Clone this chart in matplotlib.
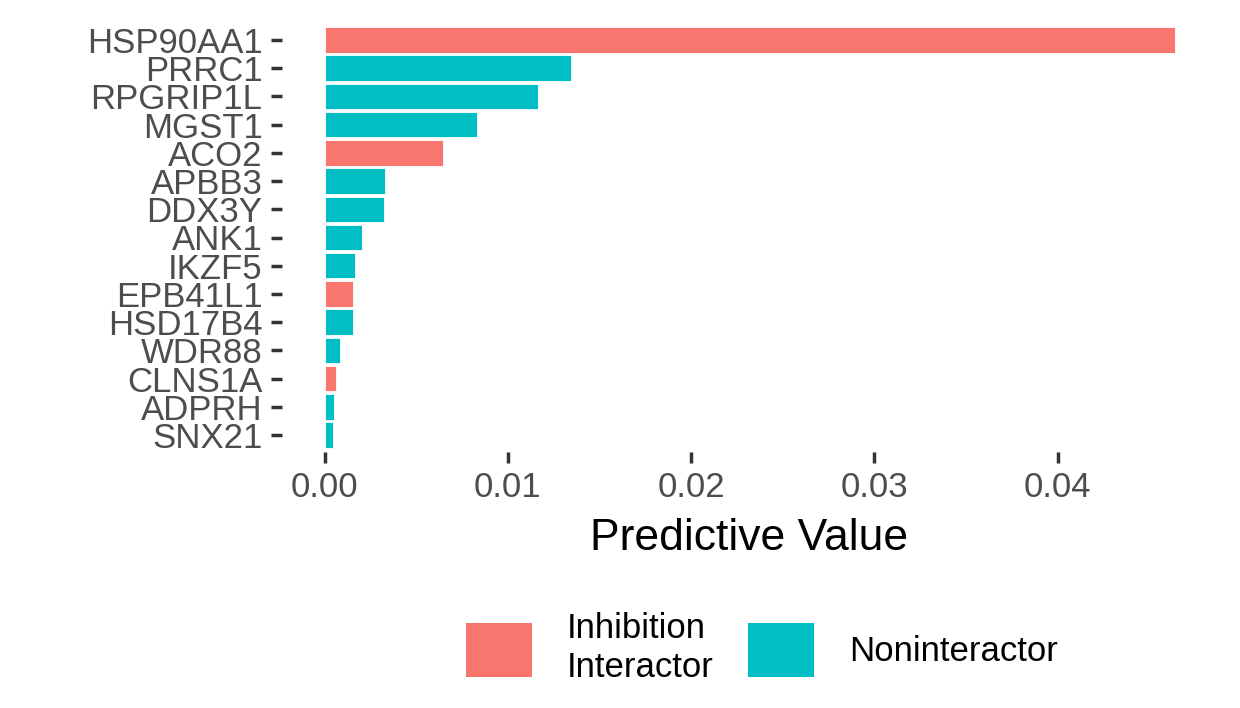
import matplotlib.pyplot as plt
from matplotlib.patches import Patch

plt.rcParams['font.family'] = ['Liberation Sans', 'DejaVu Sans']

genes = ['HSP90AA1', 'PRRC1', 'RPGRIP1L', 'MGST1', 'ACO2', 'APBB3', 'DDX3Y', 'ANK1',
         'IKZF5', 'EPB41L1', 'HSD17B4', 'WDR88', 'CLNS1A', 'ADPRH', 'SNX21']
values = [0.04638, 0.01346, 0.01166, 0.00834, 0.00649, 0.00332, 0.00327, 0.00207,
          0.00169, 0.00153, 0.00153, 0.00087, 0.00065, 0.00054, 0.00049]
groups = ['Inhibition', 'Non', 'Non', 'Non', 'Inhibition', 'Non', 'Non', 'Non',
          'Non', 'Inhibition', 'Non', 'Non', 'Inhibition', 'Non', 'Non']
colors = {'Inhibition': '#F8766D', 'Non': '#00BFC4'}

fig = plt.figure(figsize=(12.4, 7.08), dpi=100)
ax = fig.add_axes([282/1240, 1-452/708, (1217-282)/1240, 429/708])
ypos = list(range(len(genes)))[::-1]
ax.barh(ypos, values, height=0.9, color=[colors[g] for g in groups], edgecolor='white', linewidth=0.6)
m = max(values)
ax.set_xlim(-0.05*m, 1.05*m)
ax.set_ylim(-0.6, len(genes) - 0.4)
ax.set_yticks(ypos)
ax.set_yticklabels(genes)
ax.set_xticks([0, 0.01, 0.02, 0.03, 0.04])
ax.set_xticklabels(['0.00', '0.01', '0.02', '0.03', '0.04'])
for s in ax.spines.values():
    s.set_visible(False)
ax.tick_params(axis='y', length=8, width=2.5, color='#333333', labelsize=25, labelcolor='#4D4D4D', pad=6)
ax.tick_params(axis='x', length=8, width=2.5, color='#333333', labelsize=25, labelcolor='#4D4D4D', pad=6)
ax.set_xlabel('Predictive Value', fontsize=32, labelpad=10)

handles = [Patch(facecolor=colors['Inhibition'], label='Inhibition\nInteractor'),
           Patch(facecolor=colors['Non'], label='Noninteractor')]
fig.legend(handles=handles, loc='center', bbox_to_anchor=(762/1240, 1-648/708), ncol=2,
           frameon=False, fontsize=25, handlelength=1.9, handleheight=2.0, columnspacing=1.0,
           handletextpad=1.0)
fig.savefig('out.png')
